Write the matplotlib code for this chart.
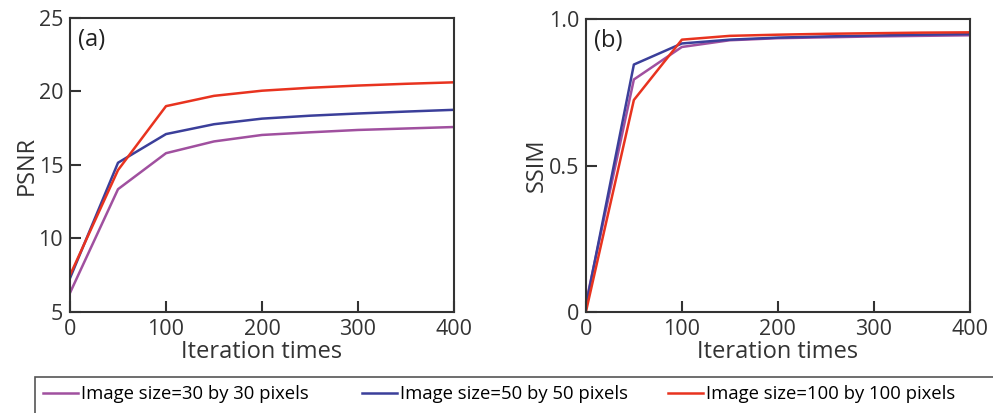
import matplotlib
matplotlib.use("Agg")
import matplotlib.pyplot as plt
from matplotlib import font_manager
from matplotlib.patches import Rectangle

plt.rcParams['font.family'] = ['Open Sans', 'DejaVu Sans']

# dados
iteracoes = [0, 50, 100, 150, 200, 250, 300, 350, 400]

psnr_30 = [6.3, 13.35, 15.8, 16.6, 17.04, 17.22, 17.38, 17.48, 17.58]
psnr_50 = [7.3, 15.15, 17.1, 17.77, 18.15, 18.35, 18.5, 18.63, 18.75]
psnr_100 = [7.5, 14.65, 19.0, 19.7, 20.05, 20.25, 20.4, 20.52, 20.62]

ssim_30 = [0.03, 0.794, 0.905, 0.928, 0.935, 0.938, 0.941, 0.943, 0.945]
ssim_50 = [0.02, 0.845, 0.917, 0.930, 0.937, 0.941, 0.944, 0.947, 0.949]
ssim_100 = [0.0, 0.724, 0.930, 0.943, 0.947, 0.950, 0.952, 0.954, 0.955]

rotulos = ["Image size=30 by 30 pixels",
           "Image size=50 by 50 pixels",
           "Image size=100 by 100 pixels"]
cores = ['#a0509f', '#3b3f9a', '#e8331f']

# fonte estreita para a legenda, se existir
nomes = {f.name for f in font_manager.fontManager.ttflist}
if 'Liberation Sans Narrow' in nomes:
    fonte_leg = {'family': 'Liberation Sans Narrow', 'size': 15}
else:
    fonte_leg = {'family': 'Open Sans', 'size': 13.3}

fig = plt.figure(figsize=(9.93, 4.13), dpi=100)
ax1 = fig.add_axes([0.0705, 0.2446, 0.3867, 0.712])
ax2 = fig.add_axes([0.590, 0.2446, 0.3867, 0.709])

cor_eixo = '#333333'

for ax, series, ylab, letra in [
        (ax1, [psnr_30, psnr_50, psnr_100], 'PSNR', '(a)'),
        (ax2, [ssim_30, ssim_50, ssim_100], 'SSIM', '(b)')]:
    for s, c, r in zip(series, cores, rotulos):
        ax.plot(iteracoes, s, color=c, lw=1.8, label=r)
    ax.set_xlim(0, 400)
    ax.set_xticks([0, 100, 200, 300, 400])
    ax.set_xlabel('Iteration times', fontsize=17, color=cor_eixo, labelpad=0)
    ax.set_ylabel(ylab, fontsize=17, color=cor_eixo, labelpad=0)
    ax.tick_params(direction='in', length=8, width=1.5, labelsize=15.5,
                   colors=cor_eixo, pad=5)
    for sp in ax.spines.values():
        sp.set_color(cor_eixo)
        sp.set_linewidth(1.5)
    ax.text(0.02, 0.965, letra, transform=ax.transAxes, fontsize=17,
            va='top', ha='left', color='#222222')

ax1.set_ylim(5, 25)
ax1.set_yticks([5, 10, 15, 20, 25])
ax2.set_ylim(0, 1.0)
ax2.set_yticks([0, 0.5, 1.0])
ax2.set_yticklabels(['0', '0.5', '1.0'])

# caixa da legenda (cortada na borda direita e inferior, como no original)
fig.patches.append(Rectangle((35 / 993, -0.1), 1.0, 0.1 + 36 / 413,
                             transform=fig.transFigure, fill=False,
                             edgecolor='#555555', lw=1.2))

h, l = ax1.get_legend_handles_labels()
pos_x = [43 / 993, 362 / 993, 668 / 993]
for hh, ll, x in zip(h, l, pos_x):
    fig.legend([hh], [ll], loc='center left', bbox_to_anchor=(x, 19 / 413),
               frameon=False, handlelength=1.9, handletextpad=0.15,
               borderpad=0, borderaxespad=0, prop=fonte_leg)

fig.savefig('out.png', dpi=100)
